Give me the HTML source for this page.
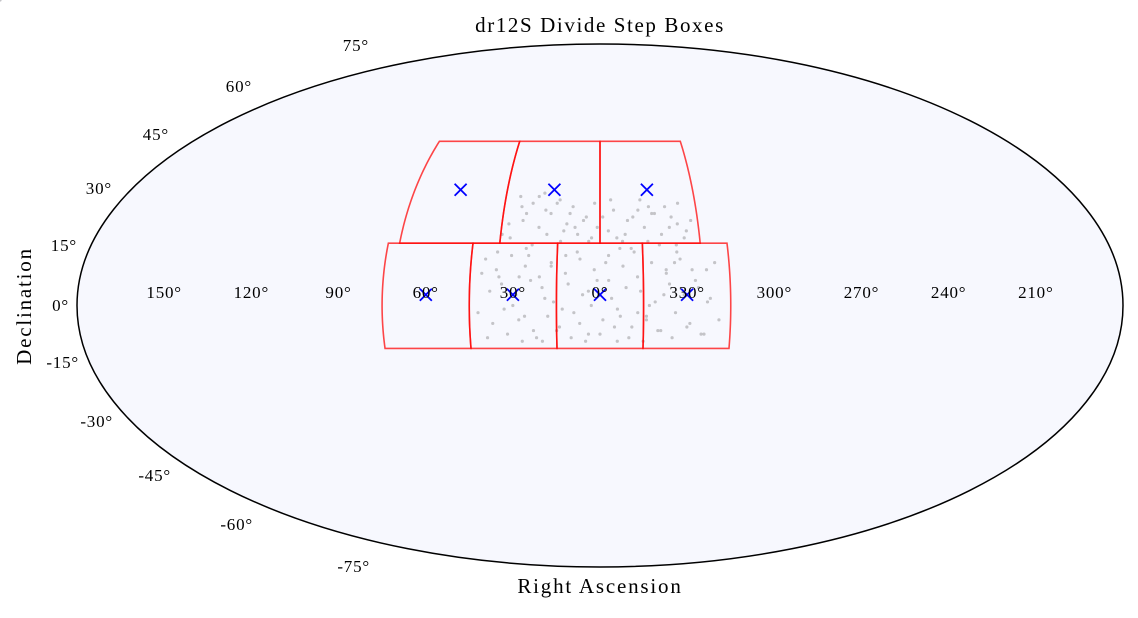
<!DOCTYPE html>
<html><head><meta charset="utf-8">
<style>
html,body{margin:0;padding:0;background:#fff;}
svg text{font-family:"Liberation Serif",serif;fill:#000;}
</style></head>
<body>
<svg id="chart" width="1138" height="613" viewBox="0 0 1138 613" xmlns="http://www.w3.org/2000/svg">
<text x="600" y="32" font-size="21" letter-spacing="1.6" text-anchor="middle">dr12S Divide Step Boxes</text>
<ellipse cx="600" cy="305.5" rx="523" ry="261.5" fill="#f7f8fe" stroke="#000" stroke-width="1.5"/>
<g id="points"></g>
<g id="boxes"></g>
<g id="centers"></g>
<g id="ralabels"></g>
<g id="declabels"></g>
<text x="600" y="593" font-size="21" letter-spacing="1.8" text-anchor="middle">Right Ascension</text>
<text x="0" y="0" font-size="21" letter-spacing="1.8" text-anchor="middle" transform="translate(31,306) rotate(-90)">Declination</text>
</svg>
<script>
const raTicks=[150,120,90,60,30,0,330,300,270,240,210];
const decTickLabels=["75°","60°","45°","30°","15°","0°","-15°","-30°","-45°","-60°","-75°"];
const decLabelPos=[[369,45],[252,86],[169,134],[112,188],[77,245],[69,305],[79,362],[113,421],[171,475],[253,524],[370,566]];
const topRowRA=[71,35.5,0,-35.5];
const botRowRA=[75,45,15,-15,-45];
const topRowDec=[17.5,48];
const botRowDec=[-12,17.5];
const centerRA=[53.5,17.5,-18,60,30,0,-30];
const centerDec=[33,33,33,3,3,3,3];
const ptRA=[30,25,20,15,10,5,28,22,18,12,8,2,-5,-10,-15,-20,-25,-30,-3,-8,-12,-18,-22,-28,32,27,24,19,14,9,
4,-1,-6,-11,-16,-21,-26,-31,33,23,16,6,-4,-14,-24,-33,29,21,13,3,-7,-17,-27,35,26,11,1,-9,-19,-29,
40,36,31,26,21,17,12,7,2,-3,-8,-13,-18,-23,-28,-33,-37,-40,38,34,29,24,20,16,11,6,1,-4,-9,-14,-19,-24,-29,-34,-38,
42,37,33,28,23,18,14,9,4,-1,-6,-11,-16,-21,-26,-31,-36,-41,39,32,27,22,15,10,5,0,-5,-10,-15,-20,-25,-30,-35,
41,35,30,25,19,13,8,3,-2,-7,-12,-17,-22,-27,-32,-37,26,17,7,-3,-13,-23,36,28,20,12,4,-6,-16,-26,-34];
const ptDec=[31,29,27,30,28,25,24,22,26,23,20,29,27,24,30,26,22,19,21,18,25,28,20,23,19,26,17,20,18,22,
18,25,19,16,22,17,25,21,23,31,29,24,30,27,28,24,28,32,21,19,16,18,17,20,16,26,22,20,26,29,
13,10,14,11,8,12,9,13,10,14,11,8,12,9,13,7,10,12,4,6,3,7,5,1,6,3,7,2,5,4,1,6,3,5,2,
-2,-5,-1,-4,-7,-3,-6,-2,-8,-4,-1,-6,-3,-7,-2,-5,-8,-4,-9,-8,-10,-9,-7,-9,-10,-8,-6,-9,-10,-7,-9,-6,-8,
9,8,0,14,2,-1,15,0,12,-3,15,0,3,15,10,1,-3,11,-5,7,-2,10,15,8,-10,14,4,-10,-4,12];
</script>
<script>
const NS='http://www.w3.org/2000/svg';
const CX=600,CY=305.5,A=523,B=261.5;
function theta(dec){const p=dec*Math.PI/180;let t=p;if(Math.abs(Math.abs(p)-Math.PI/2)<1e-9)return p;
 for(let i=0;i<50;i++){const f=2*t+Math.sin(2*t)-Math.PI*Math.sin(p);const d=2+2*Math.cos(2*t);if(Math.abs(d)<1e-12)break;t-=f/d;}return t;}
function wrap(ra){let r=((ra%360)+360)%360;if(r>180)r-=360;return r;}
function px(ra,dec){const t=theta(dec);return CX-A*(wrap(ra)/180)*Math.cos(t);}
function py(dec){return CY-B*Math.sin(theta(dec));}
function mk(tag,attrs,parent){const e=document.createElementNS(NS,tag);for(const k in attrs)e.setAttribute(k,attrs[k]);parent.appendChild(e);return e;}
const gP=document.getElementById('points');
for(let i=0;i<ptRA.length;i++){
 const c=mk('circle',{cx:px(ptRA[i],ptDec[i]),cy:py(ptDec[i]),r:1.6,fill:'#c4c4c8'},gP);
 
 
}
const gB=document.getElementById('boxes');
function boxPath(ra1,ra2,d1,d2){let pts=[];const n=30;
 for(let i=0;i<=n;i++){const r=ra1+(ra2-ra1)*i/n;pts.push([px(r,d1),py(d1)]);}
 for(let i=0;i<=n;i++){const d=d1+(d2-d1)*i/n;pts.push([px(ra2,d),py(d)]);}
 for(let i=0;i<=n;i++){const r=ra2+(ra1-ra2)*i/n;pts.push([px(r,d2),py(d2)]);}
 for(let i=0;i<=n;i++){const d=d2+(d1-d2)*i/n;pts.push([px(ra1,d),py(d)]);}
 return 'M'+pts.map(p=>p[0].toFixed(2)+','+p[1].toFixed(2)).join('L')+'Z';}
function drawRow(edges,decs){for(let i=0;i<edges.length-1;i++){
 const p=mk('path',{d:boxPath(edges[i],edges[i+1],decs[0],decs[1]),fill:'none',stroke:'#ff0000','stroke-opacity':0.72,'stroke-width':1.6},gB);
 
 }}
drawRow(topRowRA,topRowDec);drawRow(botRowRA,botRowDec);
const gC=document.getElementById('centers');
for(let i=0;i<centerRA.length;i++){const x=px(centerRA[i],centerDec[i]),y=py(centerDec[i]),s=6;
 const p=mk('path',{d:`M${x-s},${y-s}L${x+s},${y+s}M${x-s},${y+s}L${x+s},${y-s}`,stroke:'#0000ff','stroke-width':1.8,fill:'none'},gC);
 
 }
const gR=document.getElementById('ralabels');
raTicks.forEach(r=>{const t=mk('text',{x:px(r,0),y:298,'font-size':17,'letter-spacing':0.8,'text-anchor':'middle'},gR);t.textContent=r+'°';
 
 });
const gD=document.getElementById('declabels');
decTickLabels.forEach((s,i)=>{const t=mk('text',{x:decLabelPos[i][0],y:decLabelPos[i][1]+6,'font-size':17,'letter-spacing':0.8,'text-anchor':'end'},gD);t.textContent=s;
 
 });
</script>
</body></html>
